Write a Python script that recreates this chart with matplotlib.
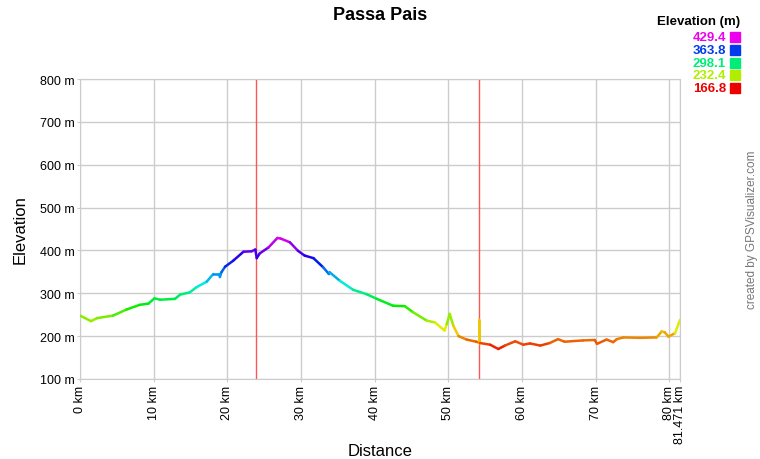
import colorsys
import numpy as np
import matplotlib
matplotlib.use('Agg')
import matplotlib.pyplot as plt
from matplotlib.collections import LineCollection

plt.rcParams['font.family'] = ['Liberation Sans', 'DejaVu Sans']

# Perfil de elevación (km, m)
dist_km = [0.0, 1.5, 2.3, 4.5, 6.3, 8.1, 9.3, 10.1, 10.9, 12.9, 13.6, 14.9, 15.8,
           17.2, 18.1, 18.9, 19.0, 19.2, 19.7, 20.8, 22.2, 23.3, 23.8, 24.0, 24.4,
           25.6, 26.8, 27.2, 28.5, 29.6, 30.5, 31.7, 33.0, 33.8, 33.9, 35.3, 37.1,
           38.9, 40.3, 42.5, 44.1, 45.2, 47.1, 48.2, 49.5, 49.8, 50.2, 50.7, 51.4,
           52.5, 53.8, 54.2, 54.2, 54.3, 55.7, 56.8, 57.7, 59.1, 60.2, 61.1, 62.5,
           63.8, 64.9, 65.8, 68.3, 69.9, 70.2, 71.5, 72.4, 72.9, 73.8, 76.0, 78.3,
           79.0, 79.4, 79.9, 80.8, 81.471]
elev_m = [248, 235, 242, 248, 262, 273, 276, 288, 285, 287, 297, 302, 314,
          327, 345, 345, 338, 349, 362, 376, 397, 398, 402, 382, 393,
          407, 429, 428, 419, 399, 388, 382, 361, 345, 349, 329, 308,
          298, 287, 271, 270, 256, 236, 232, 213, 228, 252, 224, 200,
          192, 187, 185, 238, 184, 180, 170, 178, 188, 180, 183, 178,
          184, 193, 187, 190, 191, 182, 192, 186, 193, 197, 196, 197,
          211, 209, 199, 207, 238]

marker_km = [23.9, 54.2]
legend_vals = [429.4, 363.8, 298.1, 232.4, 166.8]
y_ticks = [100, 200, 300, 400, 500, 600, 700, 800]
x_ticks = [0, 10, 20, 30, 40, 50, 60, 70, 80]
total_km = 81.471

e_min, e_max = 166.8, 429.4


def elev_color(e):
    f = (e - e_min) / (e_max - e_min)
    f = min(max(f, 0), 1)
    return colorsys.hsv_to_rgb(f * 300 / 360, 1.0, 0.93)


fig = plt.figure(figsize=(7.6, 4.6), dpi=100)
ax = fig.add_axes([80 / 760, 1 - 380 / 460, 600 / 760, 300 / 460])

x = np.array(dist_km)
y = np.array(elev_m)
pts = np.column_stack([x, y]).reshape(-1, 1, 2)
segs = np.concatenate([pts[:-1], pts[1:]], axis=1)
cols = [elev_color((a + b) / 2) for a, b in zip(y[:-1], y[1:])]
lc = LineCollection(segs, colors=cols, linewidths=1.8, capstyle='round', zorder=3)
ax.add_collection(lc)

for m in marker_km:
    ax.axvline(m, color='#ff5555', lw=1, zorder=2)

ax.set_xlim(0, total_km)
ax.set_ylim(100, 800)
ax.set_yticks(y_ticks)
ax.set_yticklabels([f'{v} m' for v in y_ticks])
ax.set_xticks(x_ticks + [total_km])
ax.set_xticklabels([f'{v} km' for v in x_ticks] + [f'{total_km} km'], rotation=90)
ax.grid(True, color='#cccccc', lw=1)
ax.set_axisbelow(True)
for s in ax.spines.values():
    s.set_color('#cccccc')
ax.tick_params(colors='#cccccc', labelcolor='black', labelsize=9, length=2, pad=2)

fig.text(380 / 760, 1 - 452 / 460, 'Distance', fontsize=12, ha='center', va='center')
fig.text(20 / 760, 1 - 230 / 460, 'Elevation', fontsize=12, rotation=90,
         ha='center', va='center')
fig.text(380 / 760, 1 - 15 / 460, 'Passa Pais', fontsize=13, fontweight='bold',
         ha='center', va='center')

# Leyenda de colores
fig.text(740 / 760, 1 - 22 / 460, 'Elevation (m)', fontsize=9.5, fontweight='bold',
         ha='right', va='center')
for i, v in enumerate(legend_vals):
    yy = 1 - (38 + i * 12.8) / 460
    c = elev_color(v)
    fig.text(726 / 760, yy, f'{v}', fontsize=9.5, fontweight='bold', color=c,
             ha='right', va='center')
    fig.patches.append(plt.Rectangle((730 / 760, yy - 5 / 460), 10 / 760, 10 / 460,
                                     transform=fig.transFigure, color=c))

fig.text(752 / 760, 1 - 230 / 460, 'created by GPSVisualizer.com', fontsize=8.5,
         color='#777777', rotation=90, ha='center', va='center')

fig.savefig('out.png', dpi=100)
